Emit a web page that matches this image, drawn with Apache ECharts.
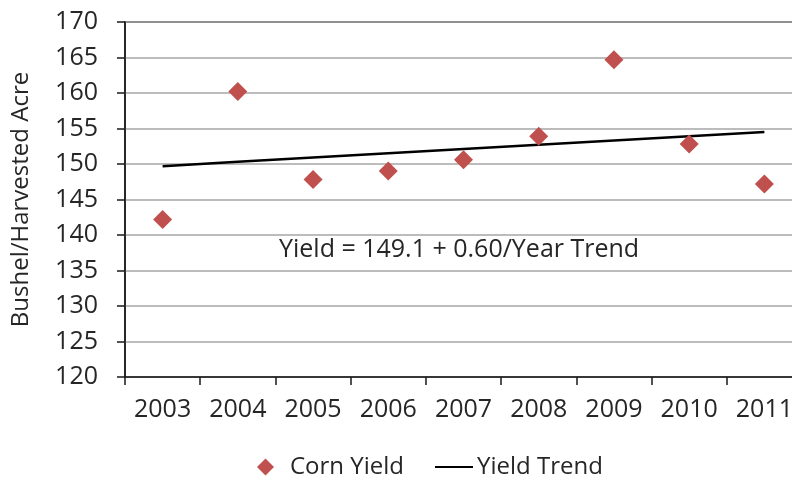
<!DOCTYPE html>
<html>
<head>
<meta charset="utf-8">
<script src="https://cdn.jsdelivr.net/npm/echarts@6/dist/echarts.min.js"></script>
<style>
  html, body { margin: 0; padding: 0; background: #fff; }
  #chart { width: 792px; height: 477px; }
</style>
</head>
<body>
<div id="chart"></div>
<script>
// Corn yield per harvested acre, 2003-2011, with fitted linear trend
const years = ['2003', '2004', '2005', '2006', '2007', '2008', '2009', '2010', '2011'];
const cornYield = [142.2, 160.2, 147.8, 149.0, 150.6, 153.9, 164.7, 152.8, 147.2];
const yieldTrend = [149.7, 150.3, 150.9, 151.5, 152.1, 152.7, 153.3, 153.9, 154.5];
const trendLabel = 'Yield = 149.1 + 0.60/Year Trend';
const yTitle = 'Bushel/Harvested Acre';

const FONT = '"Open Sans", sans-serif';
const TEXT = '#262626';
const FS = 25;

const chart = echarts.init(document.getElementById('chart'), null, { renderer: 'canvas' });

chart.setOption({
  backgroundColor: '#ffffff',
  animation: false,
  textStyle: { fontFamily: FONT },
  grid: {
    left: 125, right: -10, top: 22, bottom: 100,
    outerBoundsMode: 'none',
    containLabel: false,
    show: true, borderColor: '#1a1a1a', borderWidth: 1.5, backgroundColor: 'transparent'
  },
  legend: [
    {
      data: [{ name: 'Corn Yield', icon: 'diamond' }],
      left: 252, top: 450,
      itemWidth: 17, itemHeight: 17,
      textStyle: { fontFamily: FONT, fontSize: 24, color: TEXT, padding: [0, 0, 0, 11] }
    },
    {
      data: [{ name: 'Yield Trend', icon: 'rect', itemStyle: { color: '#000000' } }],
      left: 430, top: 450,
      itemWidth: 38, itemHeight: 2,
      textStyle: { fontFamily: FONT, fontSize: 24, color: TEXT, padding: [0, 0, 0, -1] }
    }
  ],
  xAxis: {
    type: 'category',
    data: years,
    boundaryGap: true,
    axisLine: { show: true, lineStyle: { color: '#1a1a1a', width: 1.5 } },
    axisTick: { show: true, alignWithLabel: false, length: 8, lineStyle: { color: '#1a1a1a', width: 1.5 } },
    axisLabel: { fontFamily: FONT, fontSize: FS, color: TEXT, margin: 20 },
    splitLine: { show: false }
  },
  yAxis: {
    type: 'value',
    min: 120, max: 170, interval: 5,
    name: yTitle,
    nameLocation: 'middle',
    nameGap: 92,
    nameRotate: 90,
    nameTextStyle: { fontFamily: FONT, fontSize: 24, color: TEXT },
    axisLine: { show: true, lineStyle: { color: '#1a1a1a', width: 1.5 } },
    axisTick: { show: true, inside: false, length: 8, lineStyle: { color: '#1a1a1a', width: 1.5 } },
    axisLabel: { fontFamily: FONT, fontSize: FS, color: TEXT, margin: 27 },
    splitLine: { show: true, lineStyle: { color: '#a6a6a6', width: 1.5 } }
  },
  graphic: [
    {
      type: 'text',
      left: 279, top: 237,
      style: { text: trendLabel, font: FS + 'px ' + FONT, fill: TEXT }
    }
  ],
  series: [
    {
      name: 'Corn Yield',
      type: 'scatter',
      data: cornYield,
      symbol: 'diamond',
      symbolSize: 19,
      itemStyle: { color: '#c0504d', opacity: 1 },
      z: 3
    },
    {
      name: 'Yield Trend',
      type: 'line',
      data: yieldTrend,
      symbol: 'none',
      showSymbol: false,
      lineStyle: { color: '#000000', width: 2.5 },
      itemStyle: { color: '#000000' },
      z: 2
    }
  ]
});
</script>
</body>
</html>
